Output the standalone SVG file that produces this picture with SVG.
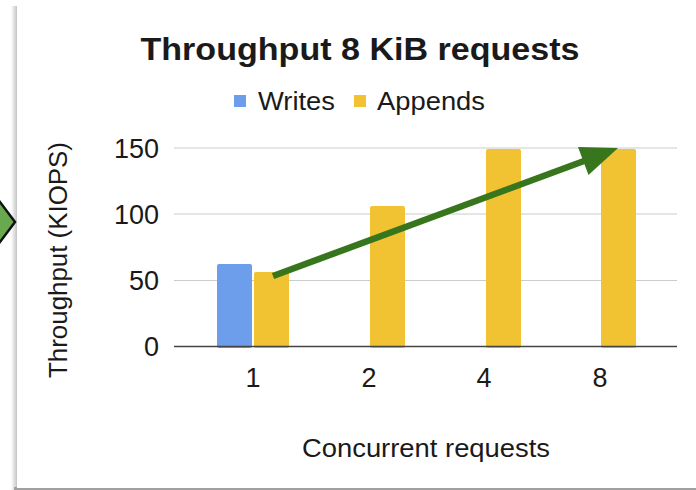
<svg xmlns="http://www.w3.org/2000/svg" width="696" height="490" viewBox="0 0 696 490">
<defs>
<linearGradient id="shL" x1="0" y1="0" x2="1" y2="0">
<stop offset="0" stop-color="#ffffff"/>
<stop offset="1" stop-color="#c4c4c4"/>
</linearGradient>
<style>
.t{font-family:"Liberation Sans",Arial,sans-serif;fill:#1a1a1a}
.tick{font-size:27px;text-anchor:end}
.xl{font-size:27px;text-anchor:middle}
.grid{stroke:#cccccc;stroke-width:1.2}
.w{fill:#6d9eeb}
.a{fill:#f1c232}
</style>
</defs>
<rect width="696" height="490" fill="#ffffff"/>
<g id="panel">
<rect x="11" y="6" width="6" height="484" fill="url(#shL)"/>
<rect x="14" y="487" width="682" height="3" fill="#a0a0a0"/>
<rect x="17" y="4" width="679" height="484" fill="#ffffff"/>
</g>
<g id="left-arrow">
<polygon points="-12,186 15,222 -12,258" fill="#6aa84f" stroke="#111" stroke-width="2.5" stroke-linejoin="miter"/>
</g>
<g id="title">
<text class="t" x="360" y="60" font-size="32" font-weight="bold" text-anchor="middle" textLength="439" lengthAdjust="spacingAndGlyphs" fill="#000">Throughput 8 KiB requests</text>
</g>
<g id="legend">
<rect x="234" y="95" width="12" height="12" class="w"/>
<text class="t" x="258" y="110" font-size="25" textLength="77" lengthAdjust="spacingAndGlyphs">Writes</text>
<rect x="354" y="95" width="12" height="12" class="a"/>
<text class="t" x="377" y="110" font-size="25" textLength="108" lengthAdjust="spacingAndGlyphs">Appends</text>
</g>
<g id="grid">
<line class="grid" x1="174" y1="148" x2="677" y2="148"/>
<line class="grid" x1="174" y1="214" x2="677" y2="214"/>
<line class="grid" x1="174" y1="280.5" x2="677" y2="280.5"/>
</g>
<g id="y-labels">
<text class="t tick" x="159" y="158">150</text>
<text class="t tick" x="159" y="224">100</text>
<text class="t tick" x="159" y="290">50</text>
<text class="t tick" x="159" y="356">0</text>
</g>
<g id="bars">
<rect class="w" x="217" y="264" width="35" height="84" rx="2"/>
<rect class="a" x="254" y="272" width="35" height="76" rx="2"/>
<rect class="a" x="370" y="206" width="35" height="142" rx="2"/>
<rect class="a" x="486" y="149" width="35" height="199" rx="2"/>
<rect class="a" x="601" y="149" width="35" height="199" rx="2"/>
</g>
<line x1="174" y1="346.5" x2="677" y2="346.5" stroke="#444" stroke-width="1.5"/>
<g id="x-labels">
<text class="t xl" x="253" y="387">1</text>
<text class="t xl" x="369" y="387">2</text>
<text class="t xl" x="484" y="387">4</text>
<text class="t xl" x="600" y="387">8</text>
</g>
<g id="axis-titles">
<text class="t" x="426" y="457" font-size="26" text-anchor="middle" textLength="248" lengthAdjust="spacingAndGlyphs">Concurrent requests</text>
<text class="t" transform="translate(67,260) rotate(-90)" x="0" y="0" font-size="26" text-anchor="middle" textLength="236" lengthAdjust="spacingAndGlyphs">Throughput (KIOPS)</text>
</g>
<g id="connectors">
<line x1="273" y1="276" x2="584" y2="161" stroke="#38761d" stroke-width="6.5"/>
<polygon points="618,148 578,147 588.5,175" fill="#38761d"/>
</g>
</svg>
